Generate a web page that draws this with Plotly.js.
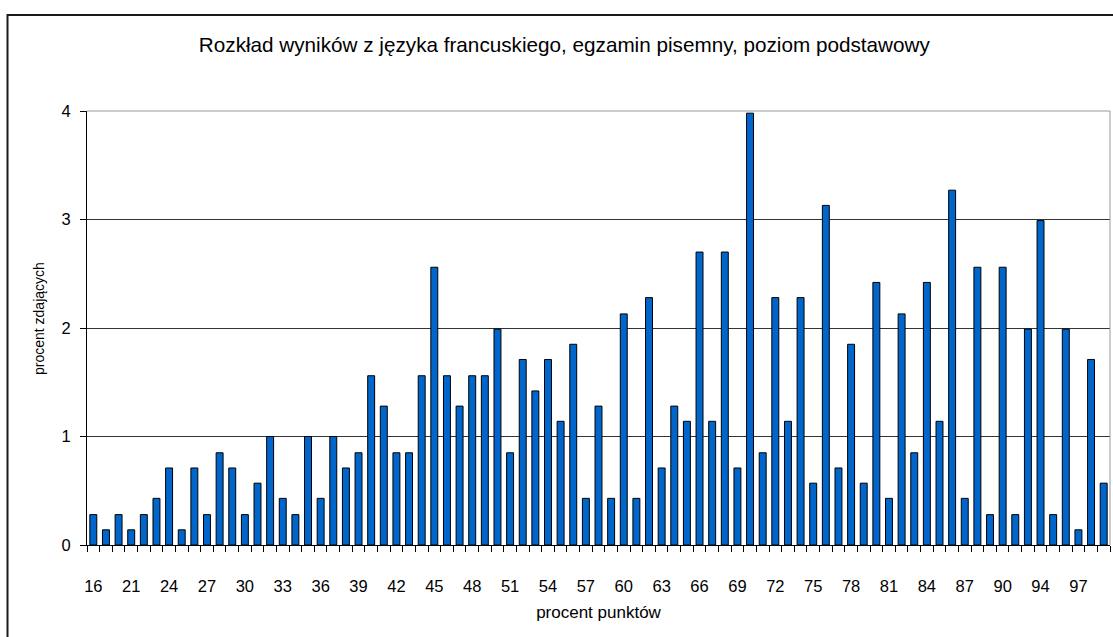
<!DOCTYPE html>
<html>
<head>
<meta charset="utf-8">
<script src="https://cdn.plot.ly/plotly-3.0.1.min.js"></script>
<style>
  html, body { margin: 0; padding: 0; background: #ffffff; }
  #chart { width: 1113px; height: 637px; }
</style>
</head>
<body>
<div id="chart"></div>
<script>
// Score categories (percent of points)
const categories = [
  '16','18','20','21','22','23','24','25','26','27','28','29','30','31','32','33','34','35','36','37',
  '38','39','40','41','42','43','44','45','46','47','48','49','50','51','52','53','54','55','56','57',
  '58','59','60','61','62','63','64','65','66','67','68','69','70','71','72','73','74','75','76','77',
  '78','79','80','81','82','83','84','85','86','87','88','89','90','91','93','94','95','96','97','98','99'
];

// Percent of exam takers
const percentTakers = [
  0.28,0.14,0.28,0.14,0.28,0.43,0.71,0.14,0.71,0.28,0.85,0.71,0.28,0.57,1.00,0.43,0.28,1.00,0.43,1.00,0.71,0.85,
  1.56,1.28,0.85,0.85,1.56,2.56,1.56,1.28,1.56,1.56,1.99,0.85,1.71,1.42,1.71,1.14,1.85,0.43,1.28,0.43,
  2.13,0.43,2.28,0.71,1.28,1.14,2.70,1.14,2.70,0.71,3.98,0.85,2.28,1.14,2.28,0.57,3.13,0.71,1.85,0.57,2.42,
  0.43,2.13,0.85,2.42,1.14,3.27,0.43,2.56,0.28,2.56,0.28,1.99,2.99,0.28,1.99,0.14,1.71,0.57
];

const yTicks = [0, 1, 2, 3, 4];
const labelEvery = 3;

const chartTitle = 'Rozkład wyników z języka francuskiego, egzamin pisemny, poziom podstawowy';
const xTitle = 'procent punktów';
const yTitle = 'procent zdających';

const xTickText = categories.map((c, i) => (i % labelEvery === 0 ? c : ''));

// plot-area geometry (px) for the outer frame in paper coordinates
const W = 1113, H = 637;
const M = { l: 87, r: 3, t: 111, b: 92 };
const pw = W - M.l - M.r, ph = H - M.t - M.b;
const px = v => (v - M.l) / pw;
const py = v => (H - M.b - v) / ph;

const trace = {
  type: 'bar',
  x: categories,
  y: percentTakers,
  marker: { color: '#0066cc', line: { color: '#000000', width: 1 } },
  hoverinfo: 'x+y'
};

const layout = {
  width: W, height: H,
  margin: M,
  paper_bgcolor: '#ffffff',
  plot_bgcolor: '#ffffff',
  font: { family: '"Liberation Sans", Arial, sans-serif', color: '#000000', size: 16 },
  showlegend: false,
  bargap: 0.45,
  title: {
    text: chartTitle,
    font: { size: 20.7, color: '#000000' },
    xref: 'container', x: 0.507, xanchor: 'center',
    yref: 'container', y: 1 - 45 / H, yanchor: 'middle'
  },
  xaxis: {
    type: 'category',
    tickmode: 'array',
    tickvals: categories,
    ticktext: xTickText,
    tickangle: 0,
    tickson: 'boundaries',
    ticks: 'outside', ticklen: 6, tickcolor: '#000000', tickwidth: 1,
    ticklabelstandoff: 26,
    showline: true, linecolor: '#000000', linewidth: 1,
    showgrid: false, zeroline: false,
    tickfont: { size: 16.5 },
    title: { text: xTitle, font: { size: 17 }, standoff: 12 },
    automargin: false
  },
  yaxis: {
    range: [0, 4],
    tickmode: 'array',
    tickvals: yTicks,
    ticks: 'outside', ticklen: 6, tickcolor: '#000000', tickwidth: 1,
    ticklabelstandoff: 6,
    showline: true, linecolor: '#000000', linewidth: 1,
    showgrid: true, gridcolor: '#333333', gridwidth: 1,
    zeroline: false,
    tickfont: { size: 16.5 },
    automargin: false
  },
  annotations: [
    { text: yTitle, xref: 'paper', yref: 'paper', x: px(39), y: py(319),
      xanchor: 'center', yanchor: 'middle', textangle: -90, showarrow: false,
      font: { size: 14, color: '#000000' } }
  ],
  shapes: [
    // plot area top and right border (gray)
    { type: 'line', xref: 'paper', yref: 'paper', x0: 0, x1: 1, y0: 1, y1: 1,
      line: { color: '#999999', width: 1 }, layer: 'above' },
    { type: 'line', xref: 'paper', yref: 'paper', x0: 1, x1: 1, y0: 0, y1: 1,
      line: { color: '#999999', width: 1 }, layer: 'above' },
    // outer chart frame
    { type: 'rect', xref: 'paper', yref: 'paper',
      x0: px(7.5), x1: px(W + 20), y0: py(H + 20), y1: py(15),
      line: { color: '#1a1a1a', width: 2 }, fillcolor: 'rgba(0,0,0,0)', layer: 'above' }
  ]
};

Plotly.newPlot('chart', [trace], layout, { displayModeBar: false, staticPlot: true });
</script>
</body>
</html>
